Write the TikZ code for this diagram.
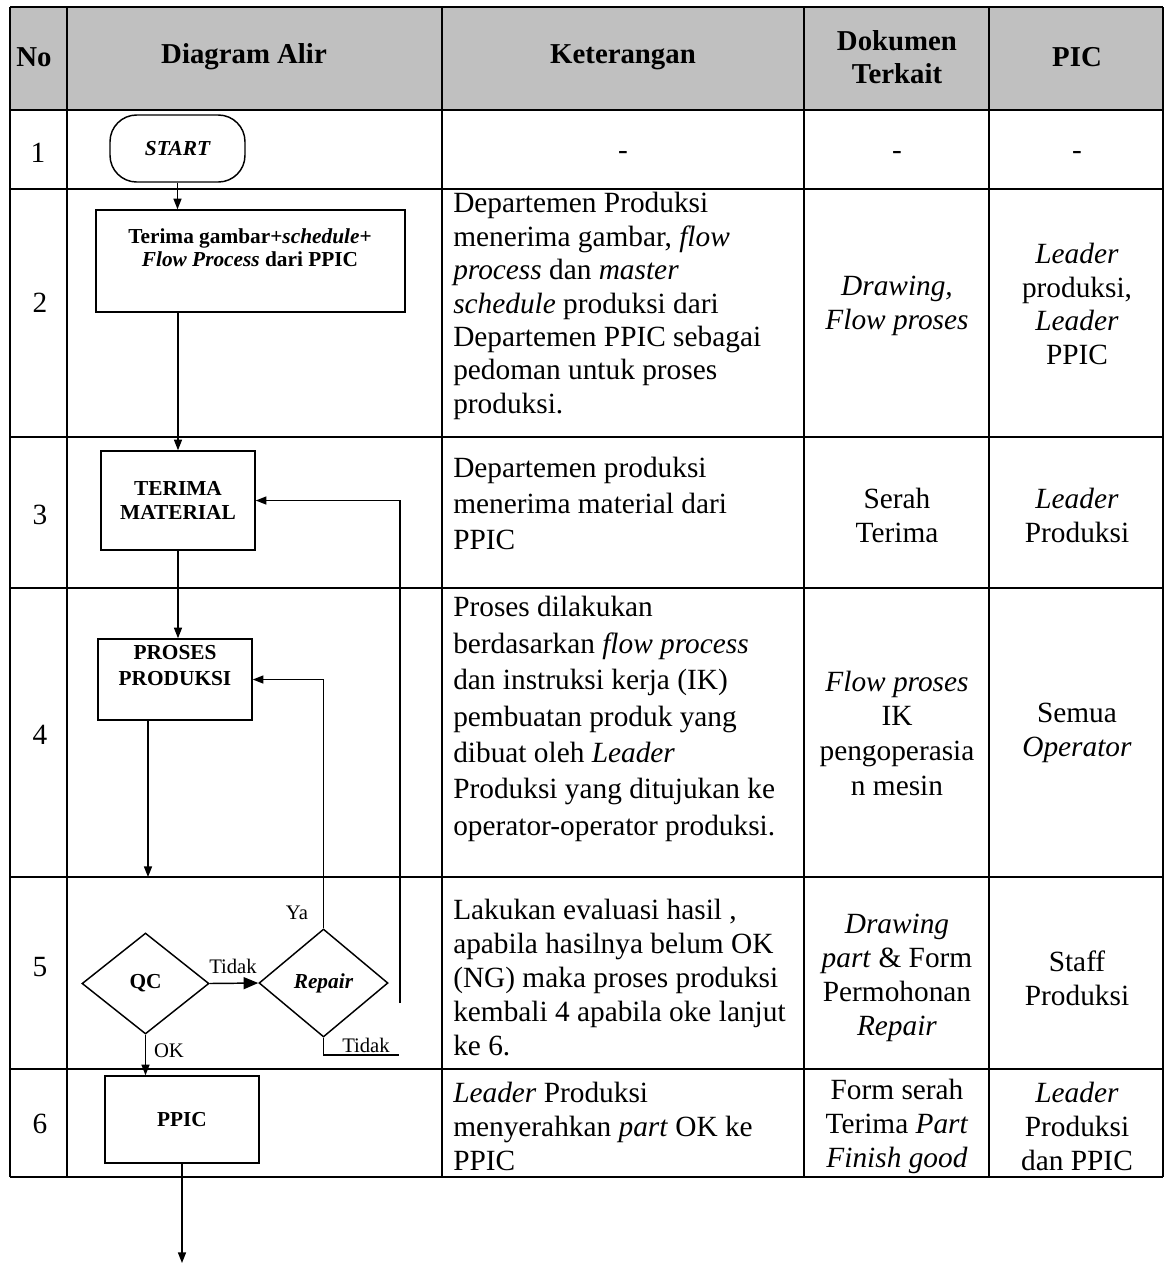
\documentclass[tikz,border=0pt]{standalone}
\usepackage{fontspec}
\setmainfont{Liberation Serif}
\usetikzlibrary{arrows.meta,shapes.geometric}
\definecolor{hdrgray}{RGB}{192,192,192}
\begin{document}
\begin{tikzpicture}[x=0.75pt,y=-0.75pt,
  gridline/.style={line width=1.8pt},
  flow/.style={line width=1.1pt},
  arr/.style={flow,-{Triangle[length=8pt,width=6pt]}},
  bigarr/.style={flow,-{Triangle[length=11pt,width=9pt]}},
  hd/.style={font=\fontsize{21.6}{25}\selectfont\bfseries, align=center, inner sep=0pt},
  num/.style={font=\fontsize{22}{25}\selectfont, inner sep=0pt},
  body/.style={inner sep=0pt, align=left, anchor=west},
  cbody/.style={inner sep=0pt, align=center},
  box/.style={draw, flow, rectangle, inner sep=0pt},
  dia/.style={draw, flow, diamond, inner sep=0pt, font=\fontsize{16}{18}\selectfont\bfseries},
  ftxt/.style={inner sep=0pt, align=center, font=\fontsize{16}{18}\selectfont\bfseries},
  lbl/.style={inner sep=0pt, font=\fontsize{15.5}{18}\selectfont}
]
\useasboundingbox (0,0) rectangle (1165,1265);
% header background
\fill[hdrgray] (10,7) rectangle (1163,110);
% header texts
\node[hd] (hno) at (34,57) {No};
\node[hd] (hdiag) at (244,57) {Diagram Alir};
\node[hd] (hket) at (623,57) {Keterangan};
\node[hd] (hdok) at (897,57) {Dokumen\\Terkait};
\node[hd] (hpic) at (1077,57) {PIC};
% row numbers
\node[num] (n1) at (38,153) {1};
\node[num] (n2) at (40,303) {2};
\node[num] (n3) at (40,515) {3};
\node[num] (n4) at (40,735) {4};
\node[num] (n5) at (40,967) {5};
\node[num] (n6) at (40,1124) {6};
% row 1
\node[num] (k1) at (623,155) {-};
\node[num] (d1) at (897,155) {-};
\node[num] (p1) at (1077,155) {-};
% row 2
\node[body, font=\fontsize{22}{25.1}\selectfont] (k2) at (453,306) {Departemen Produksi\\menerima gambar, \textit{flow}\\\textit{process} dan \textit{master}\\\textit{schedule} produksi dari\\Departemen PPIC sebagai\\pedoman untuk proses\\produksi.};
\node[cbody, font=\fontsize{22}{25.1}\selectfont] (d2) at (897,306) {\textit{Drawing,}\\\textit{Flow proses}};
\node[cbody, font=\fontsize{22}{25.1}\selectfont] (p2) at (1077,304) {\textit{Leader}\\produksi,\\\textit{Leader}\\PPIC};
% row 3
\node[body, font=\fontsize{22}{27}\selectfont] (k3) at (453,503) {Departemen produksi\\menerima material dari\\PPIC};
\node[cbody, font=\fontsize{22}{25.5}\selectfont] (d3) at (897,515) {Serah\\Terima};
\node[cbody, font=\fontsize{22}{25.5}\selectfont] (p3) at (1077,515) {\textit{Leader}\\Produksi};
% row 4
\node[body, font=\fontsize{22}{27.3}\selectfont] (k4) at (453,719) {Proses dilakukan\\berdasarkan \textit{flow process}\\dan instruksi kerja (IK)\\pembuatan produk yang\\dibuat oleh \textit{Leader}\\Produksi yang ditujukan ke\\operator-operator produksi.};
\node[cbody, font=\fontsize{22}{26}\selectfont] (d4) at (897,733) {\textit{Flow proses}\\IK\\pengoperasia\\n mesin};
\node[cbody, font=\fontsize{22}{26}\selectfont] (p4) at (1077,733) {Semua\\\textit{Operator}};
% row 5
\node[body, font=\fontsize{22}{25.5}\selectfont] (k5) at (453,978) {Lakukan evaluasi hasil ,\\apabila hasilnya belum OK\\(NG) maka proses produksi\\kembali 4 apabila oke lanjut\\ke 6.};
\node[cbody, font=\fontsize{22}{25.5}\selectfont] (d5) at (897,978) {\textit{Drawing}\\\textit{part} \& Form\\Permohonan\\\textit{Repair}};
\node[cbody, font=\fontsize{22}{25.5}\selectfont] (p5) at (1077,978) {Staff\\Produksi};
% row 6
\node[body, font=\fontsize{22}{25.5}\selectfont] (k6) at (453,1126) {\textit{Leader} Produksi\\menyerahkan \textit{part} OK ke\\PPIC};
\node[cbody, font=\fontsize{22}{25.5}\selectfont] (d6) at (897,1126) {Form serah\\Terima \textit{Part}\\\textit{Finish good}};
\node[cbody, font=\fontsize{22}{25.5}\selectfont] (p6) at (1077,1126) {\textit{Leader}\\Produksi\\dan PPIC};
% grid
\foreach \yy in {7,110,189,437,588,877,1069,1177}
  \draw[gridline] (10,\yy) -- (1163,\yy);
\foreach \xx in {10,67,442,804,989,1163}
  \draw[gridline] (\xx,7) -- (\xx,1177);
% flowchart nodes
\node[box, rounded corners=20pt, minimum width=101.25pt, minimum height=50.25pt, font=\fontsize{16}{18}\selectfont\bfseries\itshape] (start) at (177.5,148.5) {START};
\node[box, minimum width=231.75pt, minimum height=76.5pt] (b2) at (250.5,261) {};
\node[ftxt, font=\fontsize{16}{17.3}\selectfont\bfseries] (b2t) at (250,248) {Terima gambar+\textit{schedule}+\\\textit{Flow Process} dari PPIC};
\node[box, minimum width=115.5pt, minimum height=74.25pt, align=center, font=\fontsize{16}{18}\selectfont\bfseries] (b3) at (178,500.5) {TERIMA\\MATERIAL};
\node[box, minimum width=115.5pt, minimum height=60.75pt] (b4) at (175,679.5) {};
\node[ftxt, font=\fontsize{16}{19.5}\selectfont\bfseries] (b4t) at (175,666) {PROSES\\PRODUKSI};
\node[dia, minimum width=95.25pt, minimum height=75.75pt] (qc) at (145.5,983.5) {QC};
\node[dia, minimum width=96.75pt, minimum height=81pt] (rep) at (323.5,983) {\textit{Repair}};
\node[box, minimum width=115.5pt, minimum height=65.25pt, font=\fontsize{16}{18}\selectfont\bfseries] (ppic) at (182,1119.5) {PPIC};
% free ends
\coordinate (r45) at (148,877);
\coordinate (loopst) at (400,1003);
\coordinate (tend) at (399,1055);
\coordinate (endp) at (182,1263);
% connectors
\draw[arr] (start.south) -- (start.south |- b2.north);
\draw[arr] (b3.north |- b2.south) -- (b3.north);
\draw[arr] (b3.south) -- (b3.south |- b4.north);
\draw[arr] (b4.south -| r45) -- (r45);
\draw[bigarr] (qc.east) -- (rep.west);
\draw[arr] (qc.south) -- (qc.south |- ppic.north);
\draw[arr] (rep.north) |- (b4.east);
\draw[arr] (loopst) |- (b3.east);
\draw[flow] (rep.south) |- (tend);
\draw[arr] (ppic.south) -- (endp);
% labels
\node[lbl] (ltidak1) at (233,966) {Tidak};
\node[lbl] (lok) at (169,1051) {OK};
\node[lbl] (lya) at (297,913) {Ya};
\node[lbl] (ltidak2) at (366,1045) {Tidak};
\end{tikzpicture}
\end{document}
